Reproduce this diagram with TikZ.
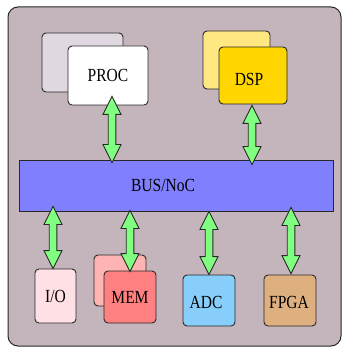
\documentclass[tikz,border=0pt]{standalone}
\usepackage{fontspec}
\setmainfont{Liberation Serif}[FakeStretch=0.84]
\usetikzlibrary{calc}
\definecolor{bgc}{RGB}{196,180,188}
\definecolor{procback}{RGB}{224,216,224}
\definecolor{dspback}{RGB}{255,232,130}
\definecolor{dspfront}{RGB}{255,214,0}
\definecolor{busc}{RGB}{128,128,255}
\definecolor{ioc}{RGB}{255,224,228}
\definecolor{memback}{RGB}{255,180,180}
\definecolor{memfront}{RGB}{255,128,128}
\definecolor{adcc}{RGB}{135,206,250}
\definecolor{fpgac}{RGB}{222,176,128}
\definecolor{arrc}{RGB}{128,255,128}
\definecolor{edge}{RGB}{40,40,40}
\tikzset{
  lbl/.style={font=\fontsize{18.5}{20}\selectfont},
  box/.style={draw=edge, line width=0.9pt, rounded corners=4pt, inner sep=0pt, lbl},
  fatarr/.style={draw=edge, fill=arrc, line width=0.9pt, line join=miter}
}
\newcommand\fatarrow[2]{%
  \draw[fatarr] let \p1=(#1), \p2=(#2) in
    (\x1,\y1) -- ({\x1+9pt},{\y1-18pt}) -- ({\x1+3.8pt},{\y1-18pt}) --
    ({\x1+3.8pt},{\y2+18pt}) -- ({\x1+9pt},{\y2+18pt}) -- (\x1,\y2) --
    ({\x1-9pt},{\y2+18pt}) -- ({\x1-3.8pt},{\y2+18pt}) --
    ({\x1-3.8pt},{\y1-18pt}) -- ({\x1-9pt},{\y1-18pt}) -- cycle;}
\begin{document}
\begin{tikzpicture}[x=1pt,y=-1pt]
\useasboundingbox (0,0) rectangle (342,347);
\draw[draw=edge, fill=bgc, line width=1pt, rounded corners=10pt] (8,7) rectangle (341,346);
% top units
\node[box, fill=procback, minimum width=81pt, minimum height=59pt] (procb) at (82.5,62.5) {};
\node[box, fill=white, minimum width=80pt, minimum height=59pt] (proc) at (108,75.5) {PROC};
\node[box, fill=dspback, minimum width=67pt, minimum height=58pt] (dspb) at (236.5,60) {};
\node[box, fill=dspfront, minimum width=68pt, minimum height=57pt] (dsp) at (253,75.5) {};
\node[lbl] (dsplbl) at (249,79.5) {DSP};
% bus
\node[box, rounded corners=0pt, fill=busc, minimum width=314pt, minimum height=51pt] (bus) at (176,185.5) {};
\node[lbl] (buslbl) at (163,185.5) {BUS/NoC};
% bottom units
\node[box, fill=ioc, minimum width=41pt, minimum height=54pt] (io) at (55.5,296) {I/O};
\node[box, fill=memback, minimum width=52pt, minimum height=51pt] (memb) at (120,280.5) {};
\node[box, fill=memfront, minimum width=52pt, minimum height=52pt] (mem) at (130,297) {MEM};
\node[box, fill=adcc, minimum width=52pt, minimum height=51pt] (adc) at (209,300.5) {};
\node[lbl] (adclbl) at (206,302) {ADC};
\node[box, fill=fpgac, minimum width=52pt, minimum height=51pt] (fpga) at (290,300.5) {};
\node[lbl] (fpgalbl) at (289,302) {FPGA};
% arrows
\fatarrow{$(proc.south)+(4,-9)$}{$(bus.north)+(-64,3)$}
\fatarrow{$(dsp.south)+(-1,1)$}{$(bus.north)+(76,5)$}
\fatarrow{$(bus.south)+(-123,-5)$}{$(io.north)+(-2,0)$}
\fatarrow{$(bus.south)+(-46,-1)$}{$(mem.north)+(0,1)$}
\fatarrow{$(bus.south)+(33,0)$}{$(adc.north)+(0,0)$}
\fatarrow{$(bus.south)+(115,-4)$}{$(fpga.north)+(1,-1)$}
\end{tikzpicture}
\end{document}
